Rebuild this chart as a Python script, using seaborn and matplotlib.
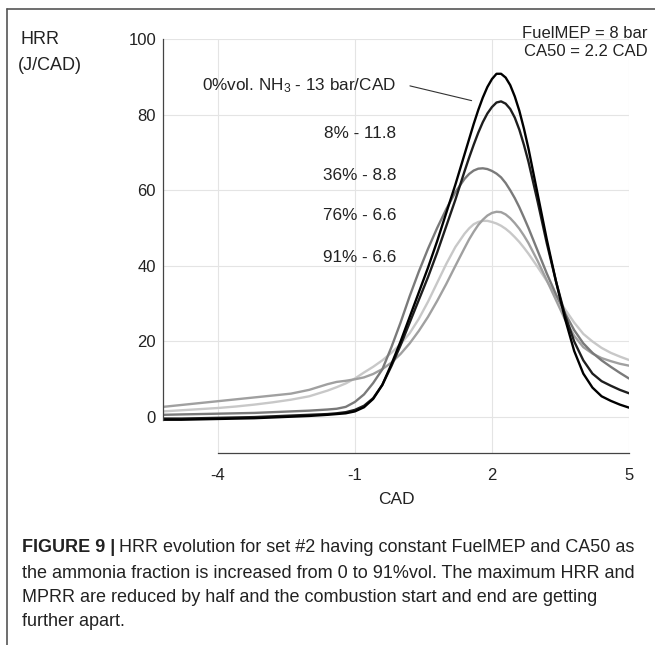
import numpy as np
import pandas as pd
import matplotlib
matplotlib.use("Agg")
import matplotlib.pyplot as plt
from matplotlib.lines import Line2D
import seaborn as sns

# ---------------- data ----------------
cad = [-5.2, -4.8, -4.4, -4.0, -3.6, -3.2, -2.8, -2.4, -2.0, -1.6, -1.4, -1.2, -1.0,
       -0.8, -0.6, -0.4, -0.2, 0.0, 0.2, 0.4, 0.6, 0.8, 1.0, 1.2,
       1.4, 1.5, 1.6, 1.7, 1.8, 1.9, 2.0, 2.1, 2.2, 2.3, 2.4, 2.5, 2.6, 2.7, 2.8,
       3.0, 3.2, 3.4, 3.6, 3.8, 4.0, 4.2, 4.4, 4.6, 4.8, 5.0]

hrr_0 = [-0.7, -0.7, -0.6, -0.5, -0.4, -0.3, -0.1, 0.1, 0.3, 0.6, 0.8, 1.0, 1.5,
         2.6, 4.8, 8.5, 14.0, 20.0, 26.5, 33.0, 39.5, 46.5, 54.0, 61.5,
         69.5, 73.5, 77.5, 81.2, 84.5, 87.3, 89.4, 90.8, 90.8, 89.8, 87.8, 84.8, 81.0, 76.3, 71.0,
         59.0, 47.0, 36.0, 26.0, 17.5, 11.5, 7.8, 5.5, 4.3, 3.3, 2.5]
hrr_8 = [-0.4, -0.4, -0.3, -0.2, -0.1, 0.0, 0.2, 0.4, 0.6, 0.8, 1.0, 1.3, 1.9,
         3.0, 5.0, 8.5, 13.5, 19.0, 25.0, 31.0, 37.0, 43.5, 50.5, 57.5,
         65.0, 68.6, 72.0, 75.2, 78.0, 80.3, 82.0, 83.2, 83.5, 82.9, 81.5, 79.2, 76.0, 72.0, 67.5,
         57.0, 46.0, 36.0, 27.0, 20.0, 15.0, 11.5, 9.5, 8.3, 7.2, 6.3]
hrr_36 = [0.6, 0.7, 0.8, 0.9, 1.0, 1.1, 1.3, 1.5, 1.7, 2.0, 2.2, 2.7, 4.0,
          6.0, 9.0, 12.6, 18.5, 25.0, 32.0, 38.5, 44.5, 50.0, 55.0, 59.5,
          63.0, 64.3, 65.2, 65.7, 65.8, 65.6, 65.1, 64.4, 63.4, 61.9, 60.0, 57.9, 55.5, 52.8, 50.0,
          44.0, 38.0, 32.5, 27.5, 23.0, 19.5, 17.0, 15.0, 13.3, 11.7, 10.2]
hrr_76 = [2.7, 3.2, 3.7, 4.2, 4.7, 5.2, 5.7, 6.2, 7.2, 8.7, 9.3, 9.6, 10.0,
          10.5, 11.4, 12.7, 14.4, 16.7, 19.5, 22.8, 26.5, 30.7, 35.2, 40.0,
          44.7, 47.0, 49.0, 50.8, 52.2, 53.3, 54.0, 54.3, 54.2, 53.6, 52.6, 51.3, 49.8, 48.0, 46.0,
          41.3, 36.2, 31.0, 25.8, 21.5, 18.5, 16.8, 15.6, 14.8, 14.1, 13.6]
hrr_91 = [1.5, 1.8, 2.1, 2.4, 2.8, 3.3, 3.9, 4.6, 5.5, 7.0, 7.9, 8.9, 10.2,
          11.8, 13.3, 15.0, 17.0, 19.3, 22.2, 26.0, 30.5, 35.5, 40.5, 45.0,
          48.5, 49.9, 51.0, 51.6, 51.9, 51.9, 51.6, 51.2, 50.6, 49.8, 48.8, 47.6, 46.3, 44.8, 43.2,
          39.7, 36.0, 32.2, 28.5, 25.0, 22.0, 20.0, 18.3, 17.0, 16.0, 15.1]

series_names = ["0%", "8%", "36%", "76%", "91%"]
series_colors = ["#000000", "#1e1e1e", "#7a7a7a", "#a0a0a0", "#c8c8c8"]
series_labels = ["0%vol. NH$_3$ - 13 bar/CAD", "8% - 11.8", "36% - 8.8", "76% - 6.6", "91% - 6.6"]
label_y = [87.6, 74.9, 64.0, 53.2, 42.2]

x_ticks = [-4, -1, 2, 5]
y_ticks = [0, 20, 40, 60, 80, 100]

caption_lines = [
    "HRR evolution for set #2 having constant FuelMEP and CA50 as",
    "the ammonia fraction is increased from 0 to 91%vol. The maximum HRR and",
    "MPRR are reduced by half and the combustion start and end are getting",
    "further apart.",
]

# ---------------- build long table ----------------
values = {"0%": hrr_0, "8%": hrr_8, "36%": hrr_36, "76%": hrr_76, "91%": hrr_91}
df = pd.concat(
    [pd.DataFrame({"CAD": cad, "HRR": values[n], "series": n}) for n in series_names],
    ignore_index=True,
)

# ---------------- style ----------------
sns.set_theme(style="white")
FONT = ["Liberation Sans", "DejaVu Sans"]
plt.rcParams["font.family"] = FONT
plt.rcParams["mathtext.fontset"] = "custom"
plt.rcParams["mathtext.rm"] = "Liberation Sans"
plt.rcParams["mathtext.it"] = "Liberation Sans:italic"
plt.rcParams["mathtext.bf"] = "Liberation Sans:bold"

W, H = 655, 645
fig = plt.figure(figsize=(W / 100, H / 100), dpi=100)
fig.patch.set_facecolor("white")

ax_l, ax_r, ax_t, ax_b = 163, 629, 39, 453
ax = fig.add_axes([ax_l / W, 1 - ax_b / H, (ax_r - ax_l) / W, (ax_b - ax_t) / H])

draw_order = ["91%", "76%", "36%", "8%", "0%"]
palette = dict(zip(series_names, series_colors))
sns.lineplot(data=df, x="CAD", y="HRR", hue="series", hue_order=draw_order,
             palette=palette, linewidth=1.7, legend=False, ax=ax, sort=False)

ax.set_xlim(-5.2, 5)
ax.set_ylim(-9.5, 100)
ax.set_xticks(x_ticks)
ax.set_yticks(y_ticks)
ax.set_xticklabels([str(v) for v in x_ticks])
ax.set_yticklabels([str(v) for v in y_ticks])
ax.grid(True, color="#e4e4e4", linewidth=0.8)
ax.set_axisbelow(True)
for s in ["top", "right"]:
    ax.spines[s].set_visible(False)
for s in ["left", "bottom"]:
    ax.spines[s].set_color("#444444")
    ax.spines[s].set_linewidth(0.9)
ax.spines["left"].set_bounds(-0.8, 100)
ax.spines["bottom"].set_bounds(-4, 5)
ax.tick_params(axis="both", direction="in", length=3, width=0.8, color="#444444",
               labelsize=12, labelcolor="#222222")
ax.tick_params(axis="x", pad=11)
ax.tick_params(axis="y", pad=5)
ax.set_xlabel("CAD", fontsize=12.5, color="#222222", labelpad=6)
ax.set_ylabel("")

# curve labels
for lab, yy in zip(series_labels, label_y):
    ax.text(-0.1, yy, lab, ha="right", va="center", fontsize=12.3, color="#222222")
ax.annotate("", xy=(1.555, 83.7), xytext=(0.205, 87.6),
            arrowprops=dict(arrowstyle="-", color="#333333", lw=0.8, shrinkA=0, shrinkB=0))

# y axis title and conditions
fig.text(20 / W, 1 - 40 / H, "HRR", ha="left", va="center", fontsize=13, color="#222222")
fig.text(18 / W, 1 - 66 / H, "(J/CAD)", ha="left", va="center", fontsize=13, color="#222222")
fig.text(648 / W, 1 - 33 / H, "FuelMEP = 8 bar", ha="right", va="center", fontsize=12, color="#222222")
fig.text(648 / W, 1 - 52 / H, "CA50 = 2.2 CAD", ha="right", va="center", fontsize=12, color="#222222")

# page frame
fig.add_artist(Line2D([7 / W, 7 / W], [0, 1 - 9 / H], transform=fig.transFigure,
                      color="#555555", lw=1.2))
fig.add_artist(Line2D([7 / W, 1], [1 - 9 / H, 1 - 9 / H], transform=fig.transFigure,
                      color="#555555", lw=1.2))

# caption
cap_size = 13
cap_y = [548, 573, 597, 622]
fig.canvas.draw()
bold = fig.text(22 / W, 1 - cap_y[0] / H, "FIGURE 9 |", ha="left", va="center",
                fontsize=cap_size, fontweight="bold", color="#222222")
renderer = fig.canvas.get_renderer()
bb = bold.get_window_extent(renderer=renderer)
fig.text((bb.x1 + 4) / W, 1 - cap_y[0] / H, caption_lines[0], ha="left", va="center",
         fontsize=cap_size, color="#222222")
for line, yy in zip(caption_lines[1:], cap_y[1:]):
    fig.text(22 / W, 1 - yy / H, line, ha="left", va="center", fontsize=cap_size, color="#222222")

fig.savefig("out.png", dpi=100, facecolor="white")
